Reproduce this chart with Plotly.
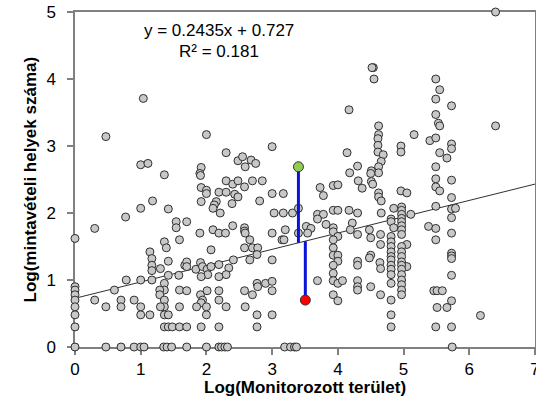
import plotly.graph_objects as go

# Log(monitored area) vs Log(number of sampling sites)
# points on the x = 0 axis
axis_col = [(0, 1.62), (0, 0.90), (0, 0.85), (0, 0.78), (0, 0.70), (0, 0.60),
            (0, 0.48), (0, 0.30), (0, 0.0)]

# points with a single sampling site (y = 0)
zero_row_x = [0.47, 0.70, 0.90, 1.00, 1.05, 1.35, 1.40, 1.47, 1.70, 2.00, 2.19,
              2.23, 2.28, 2.32, 3.19, 3.28, 3.34, 3.37, 5.74]

band_a = [(0.47, 3.14), (1.04, 3.71), (1.00, 2.72), (1.11, 2.74), (1.36, 2.57), (1.18, 2.18),
          (0.30, 1.77), (0.77, 1.94), (1.00, 2.07), (1.42, 2.06), (1.54, 1.87), (1.54, 1.78),
          (1.59, 1.60), (1.36, 1.57), (1.39, 1.48), (1.14, 1.42), (1.17, 1.32), (1.17, 1.22),
          (1.17, 1.14), (1.30, 1.17), (1.42, 1.28), (0.78, 1.00), (1.00, 1.00), (1.17, 1.00),
          (1.42, 1.07), (1.58, 1.07), (0.60, 0.85), (0.30, 0.70), (0.47, 0.60), (0.70, 0.70),
          (0.70, 0.60), (0.90, 0.70), (1.00, 0.60), (1.00, 0.48), (1.14, 0.48), (1.36, 0.95),
          (1.36, 0.85), (1.29, 0.85), (1.29, 0.78), (1.36, 0.70), (1.36, 0.60), (1.30, 0.60),
          (1.36, 0.48), (1.42, 0.48), (1.59, 0.85), (1.59, 0.60), (1.36, 0.30), (1.42, 0.30),
          (1.48, 0.30), (1.59, 0.30)]

band_b = [(1.67, 1.22), (1.70, 1.87),
          (2.00, 3.17), (2.30, 2.90), (3.00, 2.99), (2.48, 2.78), (2.55, 2.84), (2.59, 2.69),
          (2.68, 2.79), (2.75, 2.74), (1.92, 2.68), (1.90, 2.59),
          (1.91, 2.56), (2.30, 2.48), (2.40, 2.43), (2.48, 2.48), (2.58, 2.39), (2.70, 2.48),
          (2.85, 2.48), (1.92, 2.38), (2.00, 2.34), (2.00, 2.29), (2.19, 2.31), (2.30, 2.31),
          (2.43, 2.28), (2.48, 2.24), (1.92, 2.17), (2.15, 2.17), (2.12, 2.12), (2.10, 2.07),
          (2.21, 2.00), (2.39, 2.14), (2.81, 2.18), (3.00, 2.29), (3.17, 2.29), (3.03, 2.00),
          (3.17, 2.00), (3.31, 2.00),
          (1.90, 1.70), (2.10, 1.75), (2.19, 1.70), (2.29, 1.70), (2.40, 1.81), (2.58, 1.78),
          (2.58, 1.73), (2.59, 1.70), (2.66, 1.60), (3.00, 1.70), (3.20, 1.75), (3.15, 1.60),
          (3.18, 1.60),
          (2.07, 1.45), (2.58, 1.48), (2.70, 1.48), (2.78, 1.48), (2.77, 1.38), (2.66, 1.30),
          (3.00, 1.30), (2.41, 1.30),
          (1.70, 1.27), (1.70, 1.20), (1.84, 1.16), (1.91, 1.26), (1.94, 1.20), (2.01, 1.16),
          (2.07, 1.20), (2.19, 1.23), (2.34, 1.18), (2.30, 1.08), (2.19, 1.05), (2.02, 1.08),
          (1.92, 1.05),
          (2.77, 0.95), (2.78, 0.90), (2.90, 0.95), (3.00, 0.98), (3.00, 0.84),
          (1.70, 0.84), (1.91, 0.78), (1.94, 0.70), (2.01, 0.84), (1.92, 0.66), (2.19, 0.84),
          (2.19, 0.70), (2.30, 0.60), (2.58, 0.84), (2.70, 0.78),
          (1.85, 0.60), (2.00, 0.60), (2.00, 0.48), (2.59, 0.60), (2.77, 0.48), (3.00, 0.48),
          (1.70, 0.30), (1.92, 0.30), (2.19, 0.30), (2.77, 0.30)]

band_c = [(4.54, 4.17), (4.52, 4.17), (4.55, 4.00), (4.17, 3.54), (4.62, 3.30), (4.62, 3.17),
          (4.61, 3.11), (4.61, 3.01), (4.61, 2.91), (4.69, 2.87), (4.66, 2.77), (4.62, 2.69),
          (4.62, 2.60), (4.51, 2.63), (4.50, 2.59), (4.51, 2.47), (4.53, 2.43), (4.96, 3.00),
          (4.96, 2.91), (5.16, 3.17), (4.14, 2.90), (4.30, 2.70), (4.18, 2.60), (4.31, 2.48),
          (4.37, 2.37), (3.73, 2.38), (3.78, 2.26), (3.93, 2.41), (4.00, 2.42), (4.62, 2.30),
          (4.62, 2.24), (4.96, 2.33), (5.05, 2.30), (4.66, 2.18),
          (3.40, 2.07), (3.69, 1.98), (3.78, 1.98), (3.69, 1.91), (3.93, 2.04), (4.00, 2.04),
          (4.17, 2.04), (4.30, 2.00), (3.82, 1.83), (3.52, 1.80), (3.59, 1.77), (3.54, 1.70),
          (3.40, 1.70), (3.93, 1.78), (3.93, 1.72), (4.00, 1.65), (3.93, 1.60), (3.93, 1.48),
          (3.93, 1.37), (4.00, 1.37), (4.00, 1.28), (3.93, 1.22), (4.22, 1.85), (4.19, 1.75),
          (4.30, 1.68), (4.48, 1.75), (4.50, 1.63), (4.65, 1.68), (4.65, 1.53), (4.66, 2.00),
          (4.85, 2.07), (4.81, 1.91), (4.81, 1.87), (4.85, 1.78),
          (4.97, 2.09), (4.97, 2.04), (4.97, 1.98), (4.97, 1.92), (4.97, 1.87), (4.97, 1.81),
          (4.97, 1.75), (4.97, 1.68), (5.11, 1.98),
          (4.81, 1.65), (4.81, 1.57), (4.81, 1.50), (4.81, 1.42), (4.81, 1.35), (4.81, 1.30),
          (4.81, 1.22), (4.81, 1.16), (4.81, 1.08), (4.81, 0.95), (5.05, 1.53), (5.05, 1.20),
          (4.97, 1.50), (4.97, 1.42), (4.97, 1.35), (4.97, 1.27), (4.97, 1.22), (4.97, 1.16),
          (4.97, 1.08), (4.97, 1.00), (4.97, 0.93), (4.97, 0.85), (4.97, 0.78),
          (4.30, 1.28), (4.30, 1.22), (4.50, 1.37), (4.48, 1.33), (4.64, 1.26), (4.65, 1.17),
          (3.69, 0.99), (3.93, 1.10), (3.93, 0.99), (4.00, 0.95), (4.07, 0.99), (4.30, 0.99),
          (4.30, 0.90), (4.30, 0.85), (4.50, 0.90), (4.65, 0.78), (3.93, 0.78), (4.00, 0.69),
          (4.81, 0.70), (4.81, 0.48), (4.81, 0.30)]

band_d = [(5.49, 4.00), (5.55, 3.84), (5.49, 3.70), (5.73, 3.60), (5.49, 3.47), (5.53, 3.34),
          (5.55, 3.30), (6.40, 3.30), (6.40, 5.00), (5.40, 3.08), (5.49, 3.12), (5.73, 3.03),
          (5.73, 2.96), (5.55, 2.90), (5.66, 2.82), (5.49, 2.69), (5.49, 2.51), (5.73, 2.49),
          (5.49, 2.39), (5.55, 2.33), (5.73, 2.23), (5.49, 2.10), (5.73, 2.06), (5.79, 2.07),
          (5.73, 1.93), (5.38, 1.80), (5.49, 1.77), (5.49, 1.60), (5.73, 1.70), (5.73, 1.40),
          (5.73, 1.36), (5.73, 1.32), (5.73, 1.07), (5.46, 0.84), (5.51, 0.84), (5.59, 0.84),
          (5.73, 0.69), (5.51, 0.59), (5.66, 0.59), (6.17, 0.47), (5.49, 0.30), (5.73, 0.30)]

# linear fit reported on the chart
slope = 0.2435
intercept = 0.727
r_squared = 0.181

# two highlighted sites and their residuals to the fitted line
high_site = (3.40, 2.69)
low_site = (3.505, 0.70)

x_ticks = [0, 1, 2, 3, 4, 5, 6, 7]
y_ticks = [0, 1, 2, 3, 4, 5]

points = axis_col + [(x, 0.0) for x in zero_row_x] + band_a + band_b + band_c + band_d
px = [p[0] for p in points]
py = [p[1] for p in points]

FONT = "Arial, 'Liberation Sans', sans-serif"
AXIS_GREY = "#808080"


def fit(x):
    return slope * x + intercept


fig = go.Figure()

# regression line over the full x range
fig.add_trace(go.Scatter(
    x=[x_ticks[0], x_ticks[-1]], y=[fit(x_ticks[0]), fit(x_ticks[-1])],
    mode="lines", line=dict(color="#303030", width=1),
    hoverinfo="skip", showlegend=False, cliponaxis=True))

# all sites
fig.add_trace(go.Scatter(
    x=px, y=py, mode="markers",
    marker=dict(size=8, color="#c8c8c8", line=dict(color="#2e2e2e", width=1)),
    showlegend=False, cliponaxis=False))

# residual segments
for (sx, sy) in (high_site, low_site):
    fig.add_trace(go.Scatter(
        x=[sx, sx], y=[sy, fit(sx)], mode="lines",
        line=dict(color="#0a14d8", width=3),
        hoverinfo="skip", showlegend=False))

fig.add_trace(go.Scatter(
    x=[high_site[0]], y=[high_site[1]], mode="markers",
    marker=dict(size=10, color="#8fcc52", line=dict(color="#333333", width=1)),
    showlegend=False, cliponaxis=False))
fig.add_trace(go.Scatter(
    x=[low_site[0]], y=[low_site[1]], mode="markers",
    marker=dict(size=10, color="#ff0000", line=dict(color="#333333", width=1)),
    showlegend=False, cliponaxis=False))

fig.add_annotation(x=2.19, y=4.73, xref="x", yref="y",
                   text=f"y = {slope}x + {intercept}", showarrow=False,
                   font=dict(family=FONT, size=17, color="black"))
fig.add_annotation(x=2.19, y=4.41, xref="x", yref="y",
                   text=f"R² = {r_squared}", showarrow=False,
                   font=dict(family=FONT, size=17, color="black"))

# axis titles
fig.add_annotation(x=0.5, y=0, xref="paper", yref="paper", yshift=-40,
                   xanchor="center", yanchor="middle",
                   text="<b>Log(Monitorozott terület)</b>", showarrow=False,
                   font=dict(family=FONT, size=17, color="black"))
fig.add_annotation(x=0, y=0.5, xref="paper", yref="paper", xshift=-45,
                   xanchor="center", yanchor="middle", textangle=-90,
                   text="<b>Log(mintavételi helyek száma)</b>", showarrow=False,
                   font=dict(family=FONT, size=17, color="black"))

axis_common = dict(showgrid=False, zeroline=False, showline=True, linecolor=AXIS_GREY,
                   linewidth=1.5, mirror=True, ticks="outside", tickcolor=AXIS_GREY,
                   ticklen=6, tickwidth=1.5, layer="below traces",
                   ticklabeloverflow="allow", automargin=False,
                   tickfont=dict(family=FONT, size=17, color="black"))

fig.update_xaxes(range=[0, 7], tickvals=x_ticks, **axis_common)
fig.update_yaxes(range=[0, 5], tickvals=y_ticks, ticklabelstandoff=8, **axis_common)

fig.update_layout(
    width=536, height=403,
    margin=dict(l=75, r=1, t=12, b=56, autoexpand=False),
    plot_bgcolor="white", paper_bgcolor="white",
    font=dict(family=FONT),
)

fig.write_html("out.html")
